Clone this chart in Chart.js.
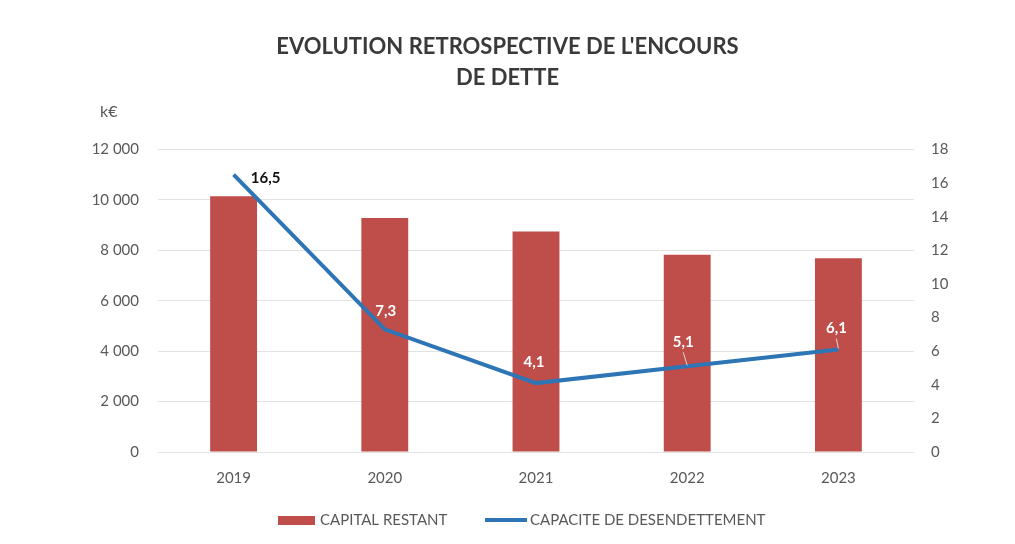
<!DOCTYPE html>
<html>
<head>
<meta charset="utf-8">
<script src="https://cdn.jsdelivr.net/npm/chart.js@4"></script>
<style>
  html, body { margin: 0; padding: 0; background: #fff; }
  #wrap { width: 1015px; height: 544px; }
</style>
</head>
<body>
<div id="wrap"><canvas id="encours"></canvas></div>
<script>
// Encours de dette 2019-2023
const years = ['2019', '2020', '2021', '2022', '2023'];
const capitalRestant = [10140, 9280, 8750, 7820, 7690];          // k€
const capaciteDesendettement = [16.5, 7.3, 4.1, 5.1, 6.1];        // années

const FONT = 'Lato, "Open Sans", sans-serif';
const BAR_COLOR = '#BF4D49';
const LINE_COLOR = '#2E75B6';

const fmtThousands = v => String(v).replace(/\B(?=(\d{3})+(?!\d))/g, ' ');
const fmtComma = v => v.toFixed(1).replace('.', ',');

// label placement for the line values (offset from the point, px)
const lineLabels = [
  { dx: 32, dy: 3, color: '#111' },
  { dx: 1, dy: -18, color: '#fff' },
  { dx: -2, dy: -21, color: '#fff' },
  { dx: -4, dy: -24, color: '#fff', leader: true },
  { dx: -2, dy: -21, color: '#fff', leader: true },
];

const extras = {
  id: 'extras',
  afterDatasetsDraw(chart) {
    const ctx = chart.ctx;
    const meta = chart.getDatasetMeta(1);
    ctx.save();
    ctx.font = 'bold 15px ' + FONT;
    ctx.textAlign = 'center';
    ctx.textBaseline = 'middle';
    meta.data.forEach((pt, i) => {
      const s = lineLabels[i];
      const x = pt.x + s.dx, y = pt.y + s.dy;
      if (s.leader) {
        ctx.strokeStyle = '#d9d9d9';
        ctx.lineWidth = 1;
        ctx.beginPath();
        ctx.moveTo(x, y + 10);
        ctx.lineTo(pt.x, pt.y - 1);
        ctx.stroke();
      }
      ctx.fillStyle = s.color;
      ctx.fillText(fmtComma(capaciteDesendettement[i]), x, y);
    });
    ctx.restore();
  },
  afterDraw(chart) {
    const ctx = chart.ctx;
    ctx.save();
    // unit above the left axis
    ctx.fillStyle = '#595959';
    ctx.font = '16px ' + FONT;
    ctx.textAlign = 'left';
    ctx.textBaseline = 'middle';
    ctx.fillText('k€', 100, 112);

    // legend
    const y = 520;
    ctx.font = '15px ' + FONT;
    ctx.fillStyle = BAR_COLOR;
    ctx.fillRect(278, y - 4, 37, 9);
    ctx.fillStyle = '#595959';
    ctx.fillText('CAPITAL RESTANT', 320, y);
    ctx.strokeStyle = LINE_COLOR;
    ctx.lineWidth = 4;
    ctx.beginPath();
    ctx.moveTo(485, y);
    ctx.lineTo(527, y);
    ctx.stroke();
    ctx.fillText('CAPACITE DE DESENDETTEMENT', 530, y);
    ctx.restore();
  }
};

new Chart(document.getElementById('encours'), {
  data: {
    labels: years,
    datasets: [
      {
        type: 'bar',
        label: 'CAPITAL RESTANT',
        data: capitalRestant,
        backgroundColor: BAR_COLOR,
        yAxisID: 'y',
        categoryPercentage: 1,
        barPercentage: 0.31,
        order: 2,
      },
      {
        type: 'line',
        label: 'CAPACITE DE DESENDETTEMENT',
        data: capaciteDesendettement,
        borderColor: LINE_COLOR,
        borderWidth: 4,
        pointRadius: 0,
        tension: 0,
        yAxisID: 'y1',
        order: 1,
      },
    ],
  },
  options: {
    responsive: true,
    maintainAspectRatio: false,
    animation: false,
    layout: { padding: { top: 0, left: 0, right: 0, bottom: 40 } },
    plugins: {
      legend: { display: false },
      tooltip: { enabled: false },
      title: {
        display: true,
        text: ["EVOLUTION RETROSPECTIVE DE L'ENCOURS", 'DE DETTE'],
        color: '#3a3a3a',
        font: { family: FONT, size: 22, weight: 'bold', lineHeight: 1.42 },
        padding: { top: 31, bottom: 56 },
      },
    },
    scales: {
      x: {
        grid: { display: false },
        border: { display: false },
        ticks: { color: '#595959', font: { family: FONT, size: 15 }, padding: 9 },
        afterFit: s => { s.height = 52; },
      },
      y: {
        position: 'left',
        min: 0,
        max: 12000,
        grid: { color: '#e2e2e2', drawTicks: false },
        border: { display: false },
        ticks: {
          stepSize: 2000,
          color: '#595959',
          font: { family: FONT, size: 15 },
          padding: 19,
          callback: v => fmtThousands(v),
        },
        afterFit: s => { s.width = 158; },
      },
      y1: {
        position: 'right',
        min: 0,
        max: 18,
        grid: { display: false, drawTicks: false },
        border: { display: false },
        ticks: {
          stepSize: 2,
          color: '#595959',
          font: { family: FONT, size: 15 },
          padding: 17,
        },
        afterFit: s => { s.width = 101; },
      },
    },
  },
  plugins: [extras],
});
</script>
</body>
</html>
